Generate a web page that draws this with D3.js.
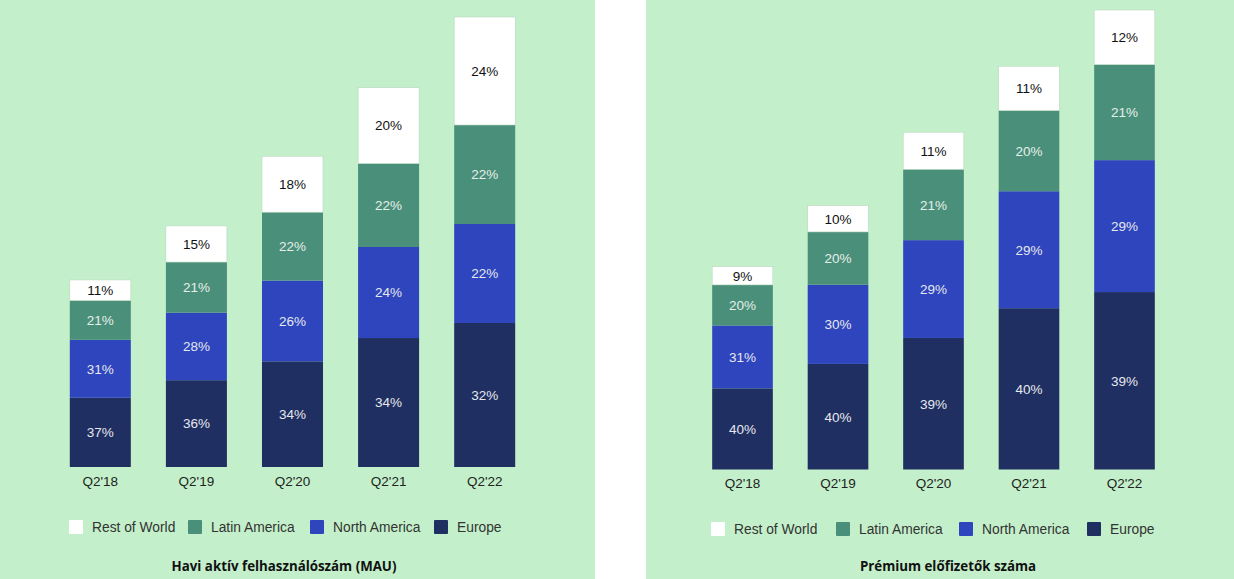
<!DOCTYPE html>
<html><head><meta charset="utf-8">
<script src="https://cdn.jsdelivr.net/npm/d3@7"></script>
<style>
html,body{margin:0;padding:0;background:#fff;}
svg{display:block;}
</style></head>
<body>
<svg id="c" width="1234" height="579"></svg>
<script>
const categories = ["Q2'18","Q2'19","Q2'20","Q2'21","Q2'22"];
const seriesNames = ["Europe","North America","Latin America","Rest of World"];
const legendOrder = ["Rest of World","Latin America","North America","Europe"];
// MAU totals (millions) and share per region (%)
const mauTotals = [180, 232, 299, 365, 433];
const mauEurope = [37, 36, 34, 34, 32];
const mauNorthAmerica = [31, 28, 26, 24, 22];
const mauLatinAmerica = [21, 21, 22, 22, 22];
const mauRestOfWorld = [11, 15, 18, 20, 24];
// Premium subscriber totals (millions) and share per region (%)
const subTotals = [83, 108, 138, 165, 188];
const subEurope = [40, 40, 39, 40, 39];
const subNorthAmerica = [31, 30, 29, 29, 29];
const subLatinAmerica = [20, 20, 21, 20, 21];
const subRestOfWorld = [9, 10, 11, 11, 12];
const titles = ["Havi aktív felhasználószám (MAU)", "Prémium előfizetők száma"];

const colors = {"Europe":"#1f2f61","North America":"#2e45bd","Latin America":"#4a8f7a","Rest of World":"#ffffff"};
const textColors = {"Europe":"#e6e8ee","North America":"#e6e8ee","Latin America":"#e6efe9","Rest of World":"#111"};

const svg = d3.select("#c");
svg.append("rect").attr("x",0).attr("y",0).attr("width",595).attr("height",579).attr("fill","#c3f0ca");
svg.append("rect").attr("x",646).attr("y",0).attr("width",588).attr("height",579).attr("fill","#c3f0ca");

function panel(cfg){
  const rows = categories.map((c,i)=>{
    const pcts = {"Europe":cfg.eu[i],"North America":cfg.na[i],"Latin America":cfg.la[i],"Rest of World":cfg.rw[i]};
    const sum = d3.sum(Object.values(pcts));
    const r = {cat:c, pcts};
    seriesNames.forEach(s=>{ r[s] = cfg.totals[i]*pcts[s]/sum; });
    return r;
  });
  const stack = d3.stack().keys(seriesNames)(rows);
  const x = d3.scaleBand().domain(categories).range(cfg.xr).paddingInner(0.365).paddingOuter(0.18);
  const y = d3.scaleLinear().domain([0, cfg.ymax]).range([cfg.y0, cfg.y0 - cfg.ymaxPx]);
  const g = svg.append("g");
  stack.forEach(layer=>{
    const key = layer.key;
    const lg = g.append("g");
    lg.selectAll("rect").data(layer).join("rect")
      .attr("x", d=>x(d.data.cat)).attr("width", x.bandwidth())
      .attr("y", d=>y(d[1])).attr("height", d=>y(d[0])-y(d[1]))
      .attr("fill", colors[key])
      .attr("stroke", key==="Rest of World" ? "#b9d8bf" : "none")
      .attr("stroke-width", key==="Rest of World" ? 0.6 : 0);
    lg.selectAll("text").data(layer).join("text")
      .attr("x", d=>x(d.data.cat)+x.bandwidth()/2)
      .attr("y", d=>(y(d[0])+y(d[1]))/2)
      .attr("dy","0.36em")
      .attr("text-anchor","middle")
      .attr("font-family","'Liberation Sans', Arial, sans-serif")
      .attr("font-size",13.5)
      .attr("fill", textColors[key])
      .text(d=>d.data.pcts[key]+"%");
  });
  const ax = g.append("g").attr("transform",`translate(0,${cfg.y0})`)
    .call(d3.axisBottom(x).tickSize(0).tickPadding(9));
  ax.select(".domain").remove();
  ax.selectAll("text").attr("font-family","'Liberation Sans', Arial, sans-serif").attr("font-size",13.5).attr("fill","#222");
  // legend
  const lgd = g.append("g");
  legendOrder.forEach((s,i)=>{
    lgd.append("rect").attr("x",cfg.legX[i]).attr("y",cfg.legY-7).attr("width",14).attr("height",14)
      .attr("fill",colors[s]).attr("rx",1);
    lgd.append("text").attr("x",cfg.legX[i]+23).attr("y",cfg.legY).attr("dy","0.35em")
      .attr("font-family","'Liberation Sans', Arial, sans-serif").attr("font-size",13.8).attr("fill","#333").text(s);
  });
  g.append("text").attr("x",cfg.titleX).attr("y",566).attr("dy","0.35em").attr("text-anchor","middle")
    .attr("font-family","'Open Sans', 'Noto Sans', sans-serif").attr("font-weight","bold").attr("font-size",13.3)
    .attr("fill","#111").text(cfg.title);
}

panel({totals:mauTotals, eu:mauEurope, na:mauNorthAmerica, la:mauLatinAmerica, rw:mauRestOfWorld,
  xr:[52.5,532.5], y0:467, ymax:433, ymaxPx:450, legX:[69,188,310,434], legY:527, titleX:284, title:titles[0]});
panel({totals:subTotals, eu:subEurope, na:subNorthAmerica, la:subLatinAmerica, rw:subRestOfWorld,
  xr:[695,1172], y0:469.5, ymax:188, ymaxPx:459.5, legX:[711,836,959,1087], legY:529, titleX:948, title:titles[1]});
</script>
</body></html>
